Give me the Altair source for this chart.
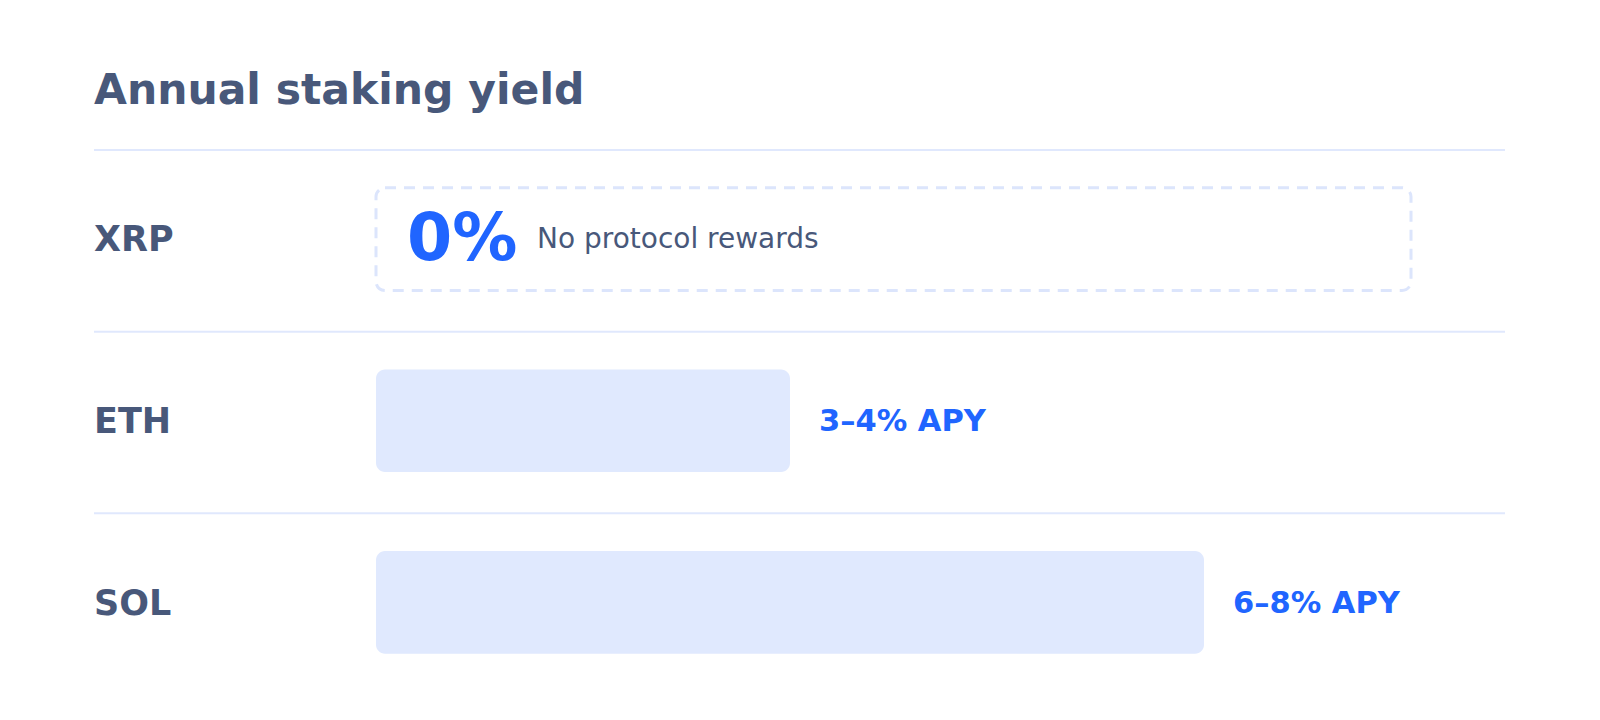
import altair as alt
import pandas as pd

# ---- data ----
ASSETS = ["XRP", "ETH", "SOL"]
APY_LOW = [0, 3, 6]
APY_HIGH = [0, 4, 8]
VALUE_TEXT = ["0%", "3–4% APY", "6–8% APY"]
NOTE_TEXT = ["No protocol rewards", "", ""]
SCALE_MAX = 10
TITLE = "Annual staking yield"

# ---- style ----
FONT = "DejaVu Sans"
SLATE = "#48587a"
BLUE = "#2065ff"
BAR_FILL = "#e0e9fe"
LINE = "#e0e8fd"
DASH = "#dce5fc"

df = pd.DataFrame({
    "asset": ASSETS,
    "row": list(range(len(ASSETS))),
    "low": APY_LOW,
    "high": APY_HIGH,
    "vtext": VALUE_TEXT,
    "note": NOTE_TEXT,
    "max": [SCALE_MAX] * len(ASSETS),
})

XS = alt.Scale(domain=[0, SCALE_MAX], range=[368, 1403], nice=False, zero=False)
YS = alt.Scale(domain=[0, 3], range=[0, 545], nice=False, zero=False)

base = alt.Chart(df).transform_calculate(
    start="0",
    center="datum.row + 0.497",
    top="datum.row + 0.208",
    bot="datum.row + 0.773",
)

rules = base.mark_rule(color=LINE, strokeWidth=2).encode(
    y=alt.Y("row:Q", scale=YS, axis=None),
    x=alt.value(86),
    x2=alt.value(1497),
)

labels = base.mark_text(
    align="left", baseline="middle", font=FONT, fontSize=35,
    fontWeight="bold", color=SLATE
).encode(
    x=alt.value(86),
    y=alt.Y("center:Q", scale=YS, axis=None),
    text="asset:N",
)

box = base.transform_filter("datum.high == 0").mark_rect(
    fill="white", stroke=DASH, strokeWidth=3, strokeDash=[11, 8], cornerRadius=9
).encode(
    x=alt.X("start:Q", scale=XS, axis=None),
    x2="max:Q",
    y=alt.Y("top:Q", scale=YS, axis=None),
    y2="bot:Q",
)

bars = base.transform_filter("datum.high > 0").mark_rect(
    fill=BAR_FILL, cornerRadius=9
).encode(
    x=alt.X("start:Q", scale=XS, axis=None),
    x2="high:Q",
    y=alt.Y("top:Q", scale=YS, axis=None),
    y2="bot:Q",
)

values = base.transform_filter("datum.high > 0").mark_text(
    align="left", baseline="middle", dx=29, font=FONT, fontSize=30.5,
    fontWeight="bold", color=BLUE
).encode(
    x=alt.X("high:Q", scale=XS, axis=None),
    y=alt.Y("center:Q", scale=YS, axis=None),
    text="vtext:N",
)

zero = base.transform_filter("datum.high == 0").mark_text(
    align="left", baseline="middle", dx=31, font=FONT, fontSize=65,
    fontWeight="bold", color=BLUE
).encode(
    x=alt.X("start:Q", scale=XS, axis=None),
    y=alt.Y("center:Q", scale=YS, axis=None),
    text="vtext:N",
)

note = base.transform_filter("datum.high == 0").mark_text(
    align="left", baseline="middle", dx=161, font=FONT, fontSize=28,
    color=SLATE
).encode(
    x=alt.X("start:Q", scale=XS, axis=None),
    y=alt.Y("center:Q", scale=YS, axis=None),
    text="note:N",
)

chart = alt.layer(rules, labels, box, bars, values, zero, note).properties(
    width=1584,
    height=545,
    background="white",
    autosize=alt.AutoSizeParams(type="none"),
    padding={"left": 0, "top": 142, "right": 0, "bottom": 0},
    title=alt.TitleParams(
        TITLE, anchor="start", frame="group", dx=86, offset=3,
        baseline="alphabetic", font=FONT, fontSize=42.5, fontWeight="bold",
        color=SLATE,
    ),
).configure_view(strokeWidth=0, stroke=None)

chart.save("out.html", embed_options={"renderer": "svg", "actions": False})
